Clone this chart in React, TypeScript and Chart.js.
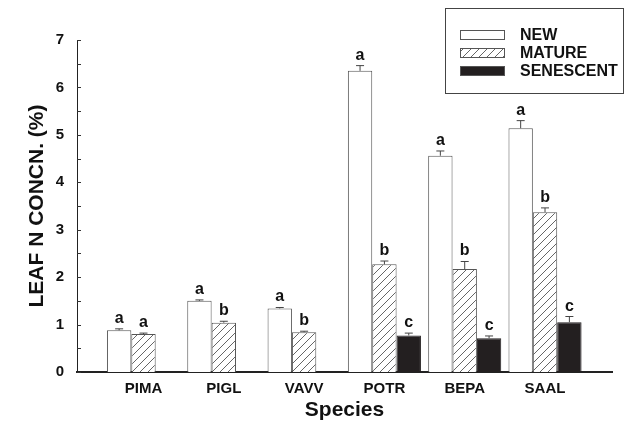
import React, { useEffect, useRef } from 'react';
import { Chart, registerables } from 'chart.js';
Chart.register(...registerables);

const species = ['PIMA', 'PIGL', 'VAVV', 'POTR', 'BEPA', 'SAAL'];
const seriesNames = ['NEW', 'MATURE', 'SENESCENT'];
const newVals = [0.88, 1.5, 1.34, 6.35, 4.56, 5.14];
const newErr = [0.03, 0.02, 0.02, 0.11, 0.1, 0.16];
const matureVals = [0.8, 1.04, 0.84, 2.27, 2.17, 3.37];
const matureErr = [0.02, 0.03, 0.02, 0.07, 0.16, 0.09];
const senVals: (number | null)[] = [null, null, null, 0.77, 0.71, 1.05];
const senErr: (number | null)[] = [null, null, null, 0.05, 0.05, 0.12];
const newLetters = ['a', 'a', 'a', 'a', 'a', 'a'];
const matureLetters = ['a', 'b', 'b', 'b', 'b', 'b'];
const senLetters: (string | null)[] = [null, null, null, 'c', 'c', 'c'];
const yMin = 0;
const yMax = 7;

const FONT = '"Liberation Sans", Arial, Helvetica, sans-serif';

function makeHatch(): CanvasPattern | string {
  const pc = document.createElement('canvas');
  pc.width = 8;
  pc.height = 8;
  const p = pc.getContext('2d');
  if (!p) return '#ffffff';
  p.fillStyle = '#ffffff';
  p.fillRect(0, 0, 8, 8);
  p.strokeStyle = '#555555';
  p.lineWidth = 0.9;
  p.beginPath();
  p.moveTo(0, 8);
  p.lineTo(8, 0);
  p.moveTo(-2, 2);
  p.lineTo(2, -2);
  p.moveTo(6, 10);
  p.lineTo(10, 6);
  p.stroke();
  const pat = p.createPattern(pc, 'repeat');
  return pat || '#ffffff';
}

const errs = [newErr, matureErr, senErr];
const letters = [newLetters, matureLetters, senLetters];

const errorPlugin = {
  id: 'errLetters',
  afterDatasetsDraw(chart: any) {
    const ctx = chart.ctx;
    const yScale = chart.scales.y;
    chart.data.datasets.forEach((ds: any, di: number) => {
      const meta = chart.getDatasetMeta(di);
      meta.data.forEach((bar: any, i: number) => {
        const v = ds.data[i].y;
        if (v == null) return;
        const e = errs[di][i] || 0;
        const x = bar.x;
        const yTop = yScale.getPixelForValue(v);
        const yErr = yScale.getPixelForValue(v + e);
        ctx.save();
        ctx.strokeStyle = '#444444';
        ctx.lineWidth = 1;
        ctx.beginPath();
        ctx.moveTo(x, yTop);
        ctx.lineTo(x, yErr);
        ctx.moveTo(x - 4, yErr);
        ctx.lineTo(x + 4, yErr);
        ctx.stroke();
        const l = letters[di][i];
        if (l) {
          ctx.fillStyle = '#111111';
          ctx.font = `bold 16px ${FONT}`;
          ctx.textAlign = 'center';
          ctx.textBaseline = 'alphabetic';
          ctx.fillText(l, x, yErr - 6);
        }
        ctx.restore();
      });
    });
  },
};

const innerTicksPlugin = {
  id: 'innerTicks',
  afterDraw(chart: any) {
    const ctx = chart.ctx;
    const y = chart.scales.y;
    const left = chart.chartArea.left;
    ctx.save();
    ctx.strokeStyle = '#333333';
    ctx.lineWidth = 1;
    y.ticks.forEach((t: any) => {
      const py = Math.round(y.getPixelForValue(t.value)) + 0.5;
      ctx.beginPath();
      ctx.moveTo(left, py);
      ctx.lineTo(left + 4, py);
      ctx.stroke();
    });
    ctx.restore();
  },
};

const boxLegendPlugin = {
  id: 'boxLegend',
  afterDraw(chart: any) {
    const ctx = chart.ctx;
    const bx = 445.5, by = 8.5, bw = 178, bh = 85;
    ctx.save();
    ctx.strokeStyle = '#444444';
    ctx.lineWidth = 1;
    ctx.strokeRect(bx, by, bw, bh);
    chart.data.datasets.forEach((ds: any, i: number) => {
      const sy = 30 + i * 18;
      ctx.fillStyle = ds.backgroundColor;
      ctx.fillRect(460, sy, 45, 10);
      ctx.strokeStyle = '#555555';
      ctx.lineWidth = 1;
      ctx.strokeRect(460.5, sy + 0.5, 44, 9);
      ctx.fillStyle = '#111111';
      ctx.font = `bold 16px ${FONT}`;
      ctx.textAlign = 'left';
      ctx.textBaseline = 'middle';
      ctx.fillText(ds.label, 520, sy + 5.5);
    });
    ctx.restore();
  },
};

export default function App() {
  const ref = useRef<HTMLCanvasElement | null>(null);

  useEffect(() => {
    document.body.style.margin = '0';
    if (!ref.current) return;
    const hatch = makeHatch();
    const toXY = (vals: (number | null)[]) => vals.map((v, i) => ({ x: i + 1, y: v }));
    const chart = new Chart(ref.current, {
      type: 'bar',
      data: {
        datasets: [
          {
            label: seriesNames[0],
            data: toXY(newVals),
            backgroundColor: '#ffffff',
            borderColor: '#555555',
            borderWidth: 1,
          },
          {
            label: seriesNames[1],
            data: toXY(matureVals),
            backgroundColor: hatch as any,
            borderColor: '#555555',
            borderWidth: 1,
          },
          {
            label: seriesNames[2],
            data: toXY(senVals),
            backgroundColor: '#231f20',
            borderColor: '#231f20',
            borderWidth: 1,
          },
        ] as any,
      },
      options: {
        animation: false,
        responsive: false,
        maintainAspectRatio: false,
        layout: { padding: { top: 40, right: 16, left: 0, bottom: 0 } },
        datasets: { bar: { categoryPercentage: 0.91, barPercentage: 1 } } as any,
        plugins: { legend: { display: false }, tooltip: { enabled: false } },
        scales: {
          x: {
            type: 'linear',
            offset: false,
            min: 0.172,
            max: 6.834,
            afterBuildTicks: (scale: any) => {
              scale.ticks = species.map((_, i) => ({ value: i + 1 }));
            },
            afterFit: (scale: any) => {
              scale.height = 55;
            },
            ticks: {
              callback: (v: any) => species[Math.round(Number(v)) - 1] ?? '',
              color: '#111111',
              font: { family: FONT, size: 15, weight: 'bold' },
              padding: 8,
              maxRotation: 0,
              autoSkip: false,
            },
            grid: { display: false, drawTicks: false, offset: false },
            border: { display: true, color: '#222222', width: 2 },
            title: {
              display: true,
              text: 'Species',
              color: '#111111',
              font: { family: FONT, size: 21, weight: 'bold' },
              padding: { top: 0, bottom: 4 },
            },
          },
          y: {
            min: yMin,
            max: yMax,
            afterFit: (scale: any) => {
              scale.width = 77;
            },
            ticks: {
              stepSize: 0.5,
              callback: (v: any) => (Number.isInteger(Number(v)) ? String(v) : ''),
              color: '#111111',
              font: { family: FONT, size: 15, weight: 'bold' },
              padding: 13,
              autoSkip: false,
            },
            grid: { display: false, drawTicks: false },
            border: { display: true, color: '#222222', width: 1 },
            title: {
              display: true,
              text: 'LEAF N CONCN. (%)',
              color: '#111111',
              font: { family: FONT, size: 21, weight: 'bold' },
              padding: { top: 25, bottom: 0 },
            },
          },
        },
      } as any,
      plugins: [errorPlugin, innerTicksPlugin, boxLegendPlugin],
    });
    return () => chart.destroy();
  }, []);

  return (
    <div style={{ position: 'absolute', left: 0, top: 0, width: 628, height: 427 }}>
      <canvas ref={ref} width={628} height={427} style={{ width: 628, height: 427 }} />
    </div>
  );
}
